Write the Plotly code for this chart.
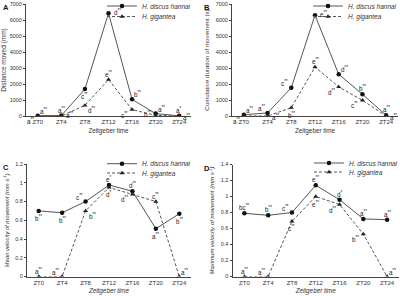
import plotly.graph_objects as go

categories = ["ZT0", "ZT4", "ZT8", "ZT12", "ZT16", "ZT20", "ZT24"]
series_names = ["<i>H. discus hannai</i>", "<i>H. gigantea</i>"]

# Panel A: distance moved (mm)
a_hannai = [20, 30, 1680, 6420, 1040, 150, 10]
a_gigantea = [0, 5, 660, 2280, 400, 40, 0]
a_lab_hannai = ["a**", "a**", "c**", "d**", "b**", "a**", "a*"]
a_lab_gigantea = ["a**", "a**", "d**", "e**", "c**", "b**", "a**"]

# Panel B: cumulative duration of movement (s)
b_hannai = [80, 190, 1770, 6300, 2610, 1360, 40]
b_gigantea = [0, 0, 520, 3060, 1820, 980, 0]
b_lab_hannai = ["a**", "a**", "c**", "e**", "d**", "b**", "a**"]
b_lab_gigantea = ["a**", "a**", "b**", "e**", "d**", "c**", "a**"]

# Panel C: mean velocity of movement (mm s-1)
c_hannai = [0.70, 0.68, 0.80, 0.975, 0.91, 0.51, 0.67]
c_gigantea = [0, 0, 0.70, 0.95, 0.875, 0.80, 0]
c_lab_hannai = ["b**", "b**", "c**", "e*", "d**", "a**", "b**"]
c_lab_gigantea = ["a**", "a**", "b**", "d*", "d**", "c**", "a**"]

# Panel D: maximum velocity of movement (mm s-1)
d_hannai = [0.79, 0.765, 0.80, 1.14, 0.96, 0.72, 0.71]
d_gigantea = [0, 0, 0.69, 1.00, 0.90, 0.53, 0]
d_lab_hannai = ["bc**", "b**", "c**", "e**", "d*", "a**", "a**"]
d_lab_gigantea = ["a**", "a**", "c**", "e**", "d**", "b**", "a**"]

y_titles = ["Distance moved (mm)", "Cumulative duration of movement (s)",
            "<i>Mean velocity of movement (mm s<sup>-1</sup>)</i>",
            "<i>Maximum velocity of movement (mm s<sup>-1</sup>)</i>"]
y_ranges = [[0, 7000], [0, 7000], [0, 1.2], [0, 1.4]]
y_dticks = [1000, 1000, 0.2, 0.2]
panel_letters = ["A", "B", "C", "D"]

# label placement (style): position codes
a_pos_h = ["ar", "a", "b", "r", "ar", "ar", "a"]
a_pos_g = ["bl", "r", "br", "a", "bl", "l", "rl"]
b_pos_h = ["ar", "al", "al", "r", "ar", "a", "a"]
b_pos_g = ["bl", "rl", "b", "a", "bl", "bl", "rl"]
c_pos_h = ["b", "b", "al", "a", "a", "b", "b"]
c_pos_g = ["a", "al", "br", "b", "bl", "a", "ar"]
d_pos_h = ["a", "a", "al", "a", "a", "a", "a"]
d_pos_g = ["a", "al", "b", "b", "bl", "bl", "ar"]

shift = {"a": (0, 6, "center"), "b": (0, -7, "center"), "r": (3, 1, "left"),
         "rl": (2, -1, "left"),
         "l": (-3, 1, "right"), "ar": (0, 5, "left"), "al": (-1, 5, "right"),
         "br": (1, -5, "left"), "bl": (-2, -5, "right")}

# plot-area rectangles (pixels in the 400x296 picture): left, right, top, bottom
W, H = 400, 296
rects = [(26, 191, 4, 116), (232, 398, 4, 116), (27, 191, 164, 276.5), (232.5, 399, 164.5, 276.5)]
# legend text start x and item y (pixels)
legend_text_x = [144, 350, 144, 351]
legend_item_y = [(6, 16.5), (6, 16.5), (163.7, 173), (163, 172)]
y_title_sizes = [6.5, 6.2, 5.8, 6.0]

FONT = "Liberation Sans, Arial, sans-serif"
TXT = "#333333"
LINE = "#555555"

fig = go.Figure()
annotations = []
layout = dict(
    template="none", showlegend=True,
    width=W, height=H, margin=dict(l=0, r=0, t=0, b=0, autoexpand=False),
    paper_bgcolor="white", plot_bgcolor="white",
    font=dict(family=FONT, size=7, color=TXT),
)

def sup(s):
    base = s.rstrip("*")
    stars = s[len(base):]
    return base + ("<sup>" + stars + "</sup>" if stars else "")

panels = [
    (a_hannai, a_gigantea, a_lab_hannai, a_lab_gigantea, a_pos_h, a_pos_g),
    (b_hannai, b_gigantea, b_lab_hannai, b_lab_gigantea, b_pos_h, b_pos_g),
    (c_hannai, c_gigantea, c_lab_hannai, c_lab_gigantea, c_pos_h, c_pos_g),
    (d_hannai, d_gigantea, d_lab_hannai, d_lab_gigantea, d_pos_h, d_pos_g),
]

for i, (hv, gv, lh, lg, ph, pg) in enumerate(panels):
    n = "" if i == 0 else str(i + 1)
    xa, ya = "x" + n, "y" + n
    l1 = "legend" + ("" if i == 0 else str(2 * i + 1))
    l2 = "legend" + str(2 * i + 2)
    fig.add_trace(go.Scatter(
        x=categories, y=hv, name=series_names[0], xaxis=xa, yaxis=ya, legend=l1,
        showlegend=True, hoverinfo="skip",
        mode="lines+markers", line=dict(color=LINE, width=1),
        marker=dict(symbol="circle", size=4.5, color="#111111")))
    fig.add_trace(go.Scatter(
        x=categories, y=gv, name=series_names[1], xaxis=xa, yaxis=ya, legend=l2,
        showlegend=True, hoverinfo="skip",
        mode="lines+markers", line=dict(color=LINE, width=1, dash="3px,2px"),
        marker=dict(symbol="triangle-up", size=4.5, color="#222222")))
    L, R, T, B = rects[i]
    dx = [L / W, R / W]
    dy = [1 - B / H, 1 - T / H]
    layout["xaxis" + n] = dict(
        domain=dx, anchor=ya, type="category", range=[-0.5, 6.5], automargin=False,
        showline=True, linecolor="#444", linewidth=1, ticks="", showgrid=False,
        zeroline=False, tickfont=dict(size=6, color=TXT),
        title=dict(text="<i>Zeitgeber time</i>" if i >= 2 else "Zeitgeber time",
                   font=dict(size=6.3, color=TXT), standoff=4 if i < 2 else 3))
    layout["yaxis" + n] = dict(
        domain=dy, anchor=xa, range=y_ranges[i], dtick=y_dticks[i], automargin=False,
        showline=True, linecolor="#444", linewidth=1, ticks="outside", ticklen=2,
        tickcolor="#444", showgrid=False, zeroline=False,
        tickfont=dict(size=5.5, color=TXT),
        title=dict(text=y_titles[i], font=dict(size=y_title_sizes[i], color=TXT), standoff=5))
    for lname, ly in ((l1, legend_item_y[i][0]), (l2, legend_item_y[i][1])):
        layout[lname] = dict(
            visible=True,
            x=(legend_text_x[i] - 42) / W, y=1 - ly / H, xanchor="left", yanchor="middle",
            bgcolor="rgba(0,0,0,0)", borderwidth=0, font=dict(size=6.5, color=TXT))
    for vals, labs, poss in ((hv, lh, ph), (gv, lg, pg)):
        for c, v, t, p in zip(categories, vals, labs, poss):
            sx, sy, anc = shift[p]
            annotations.append(dict(
                x=c, y=v, xref=xa, yref=ya, text=sup(t), showarrow=False,
                xanchor=anc, yanchor="middle", xshift=sx, yshift=sy,
                font=dict(size=6.3, color="#222")))
    annotations.append(dict(
        x=(1 if i % 2 == 0 else 202) / W, y=1 - (T - 3) / H,
        xref="paper", yref="paper", text="<b>" + panel_letters[i] + "</b>",
        showarrow=False, xanchor="left", yanchor="top",
        font=dict(size=7.5, color="#111")))

layout["annotations"] = annotations
fig.update_layout(**layout)
fig.write_html("out.html", config={"displayModeBar": False, "staticPlot": True},
               post_script="document.body.style.margin='0';document.body.style.padding='0';")
